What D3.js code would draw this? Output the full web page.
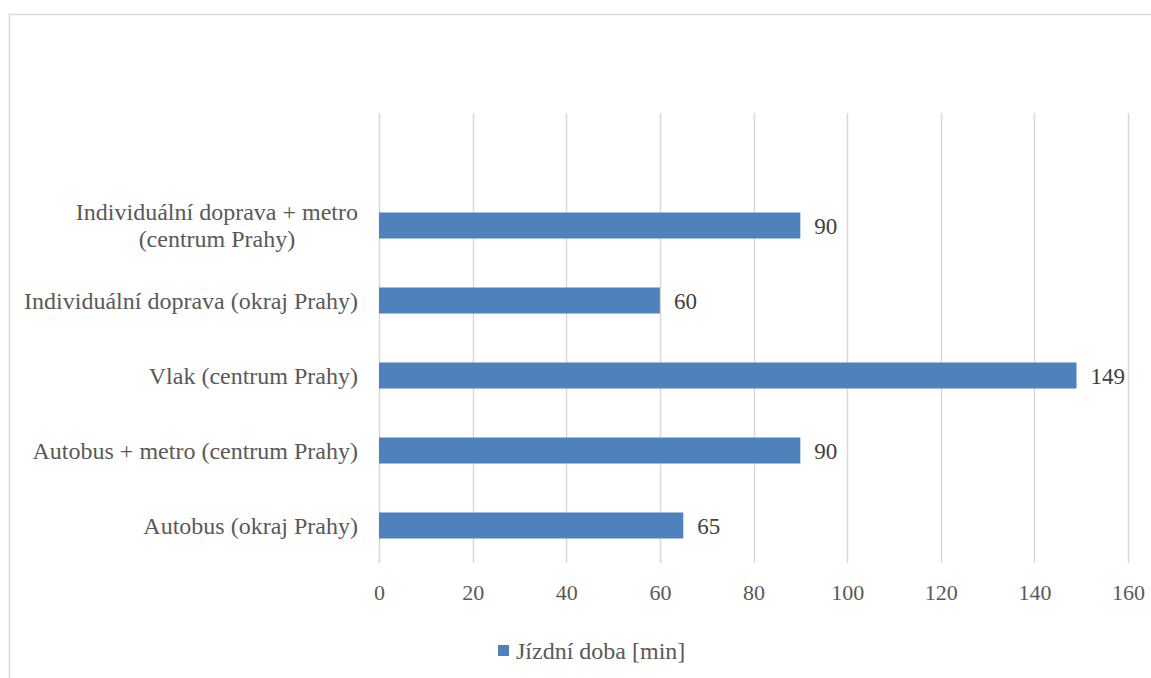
<!DOCTYPE html>
<html><head><meta charset="utf-8">
<script src="https://cdn.jsdelivr.net/npm/d3@7"></script>
<style>html,body{margin:0;padding:0;background:#fff;}svg{display:block;}
svg text{font-family:"Liberation Serif","Times New Roman",Times,"DejaVu Serif",serif;}</style>
</head><body>
<svg id="c" width="1151" height="678"></svg>
<script>
const categories = [
  ["Autobus (okraj Prahy)"],
  ["Autobus + metro (centrum Prahy)"],
  ["Vlak (centrum Prahy)"],
  ["Individuální doprava (okraj Prahy)"],
  ["Individuální doprava + metro", "(centrum Prahy)"]
];
const values = [65, 90, 149, 60, 90];
const xTicks = [0, 20, 40, 60, 80, 100, 120, 140, 160];
const seriesName = "Jízdní doba [min]";

(function () {
const svg = d3.select("#c");
const textCol = "#595959";
const barCol = "#4f81bd";
const gridCol = "#d9d9d9";
const labelSize = 24, numSize = 22, valSize = 23;

// chart border
svg.append("rect").attr("x", 9.5).attr("y", 14.5).attr("width", 1160).attr("height", 700)
  .attr("fill", "none").attr("stroke", gridCol).attr("stroke-width", 1.5);

const pLeft = 379, pRight = 1128, pTop = 113, pBottom = 563;
const x = d3.scaleLinear().domain([0, 160]).range([pLeft, pRight]);
const keys = categories.map((c, i) => i);
const y = d3.scaleBand().domain(keys).range([pBottom, pTop + (pBottom - pTop) / 6])
  .paddingInner(0.653).paddingOuter(0.3265);

// grid
svg.append("g").selectAll("line").data(xTicks).join("line")
  .attr("x1", d => Math.round(x(d)) + 0.5).attr("x2", d => Math.round(x(d)) + 0.5)
  .attr("y1", pTop).attr("y2", pBottom)
  .attr("stroke", gridCol).attr("stroke-width", 1.5);

// x axis labels
const xAxis = d3.axisBottom(x).tickValues(xTicks).tickSize(0).tickPadding(0);
const xg = svg.append("g").attr("transform", `translate(0,${pBottom})`).call(xAxis);
xg.select(".domain").remove();
xg.attr("font-family", null);
xg.selectAll("text").attr("font-size", numSize).attr("fill", textCol)
  .attr("dy", null).attr("y", 37);

// bars
svg.append("g").selectAll("rect").data(values).join("rect")
  .attr("x", x(0)).attr("y", (d, i) => y(i))
  .attr("width", d => x(d) - x(0)).attr("height", y.bandwidth())
  .attr("fill", barCol);

// value labels
svg.append("g").selectAll("text").data(values).join("text")
  .attr("x", d => x(d) + 14).attr("y", (d, i) => y(i) + y.bandwidth() / 2 + 8)
  .attr("font-size", valSize).attr("fill", "#404040")
  .text(d => d);

// category labels
const lg = svg.append("g");
categories.forEach((lines, i) => {
  const cy = y(i) + y.bandwidth() / 2;
  const t = lg.append("text").attr("font-size", labelSize).attr("fill", textCol);
  if (lines.length === 1) {
    t.attr("x", 358).attr("y", cy + 8).attr("text-anchor", "end").text(lines[0]);
  } else {
    t.attr("text-anchor", "middle");
    const lh = 27;
    let w = 0;
    lines.forEach((ln, j) => {
      const ts = t.append("tspan").attr("x", 0).attr("y", cy + 8 + (j - (lines.length - 1) / 2) * lh).text(ln);
      w = Math.max(w, ts.node().getComputedTextLength());
    });
    t.selectAll("tspan").attr("x", 358 - w / 2);
  }
});

// legend
svg.append("rect").attr("x", 498).attr("y", 645).attr("width", 11).attr("height", 11).attr("fill", barCol);
svg.append("text").attr("x", 516).attr("y", 659).attr("font-size", labelSize)
  .attr("fill", textCol).text(seriesName);
})();
</script>
</body></html>
